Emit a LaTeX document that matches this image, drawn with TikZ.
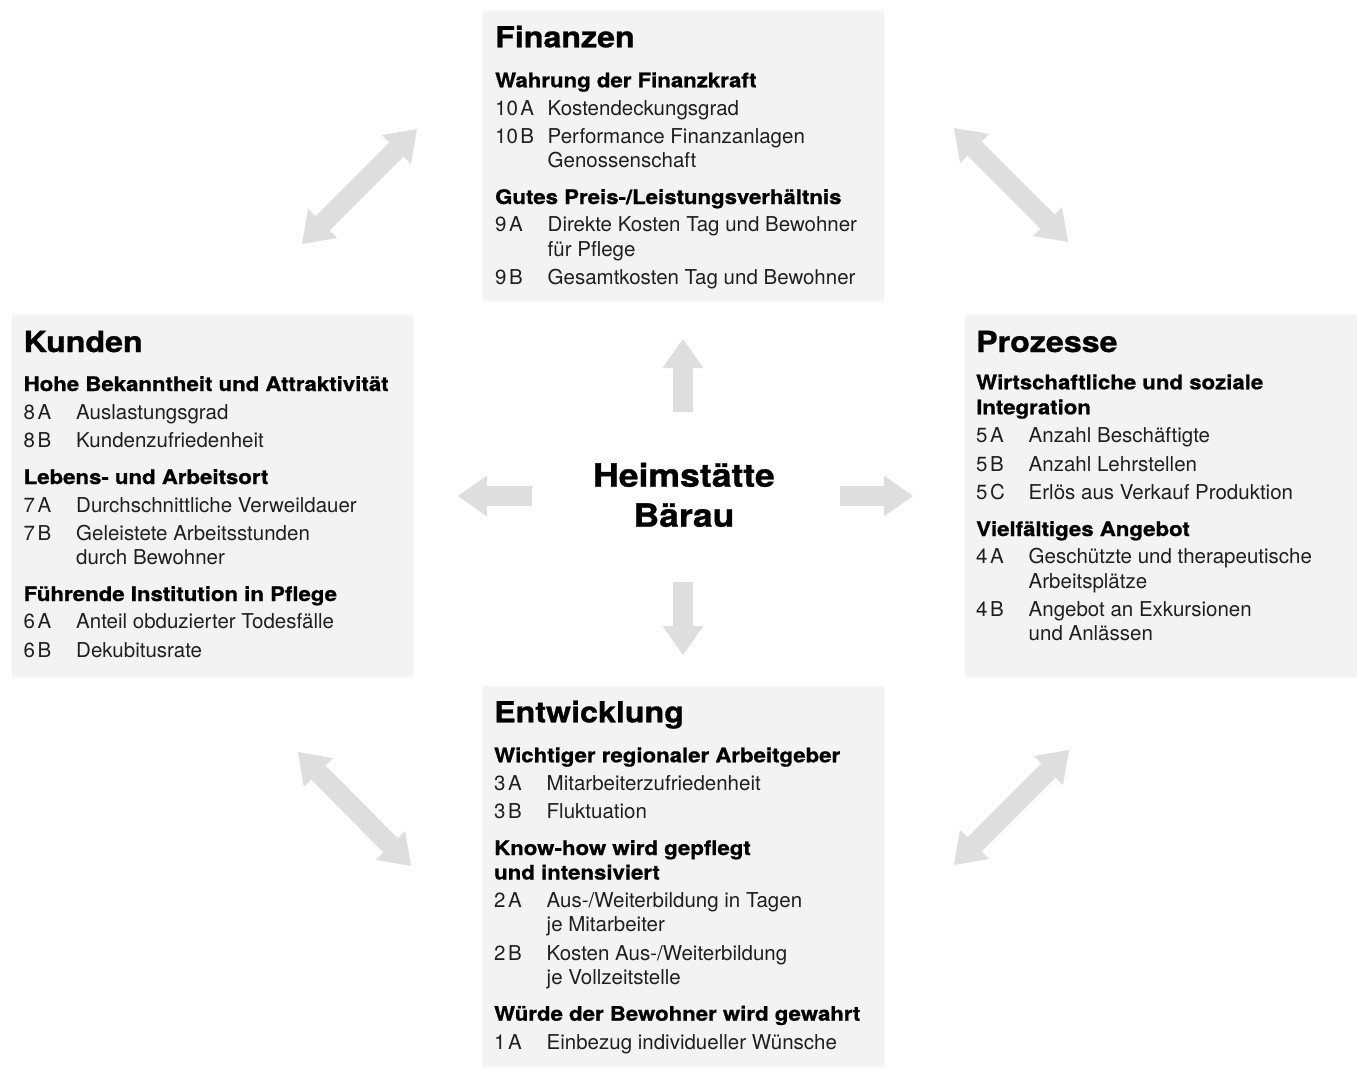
\documentclass[tikz,border=0pt]{standalone}
\usepackage{fontspec}
\setmainfont{TeX Gyre Heros}
\newfontfamily\hb{TeX Gyre Heros}[FakeStretch=1.11,FakeBold=0.9]
\usetikzlibrary{arrows.meta}
\definecolor{boxgray}{HTML}{F3F3F3}
\definecolor{arrgray}{HTML}{DEDEDE}
\newcounter{rw}
\newcommand\nsp{\kern2.5pt}
\newcommand\Ttl[4]{\node[ttl] (#1) at (#2,#3) {#4};}
\newcommand\Sub[3]{\stepcounter{rw}\node[subh] (s\arabic{rw}) at (#1,#2) {#3};}
\newcommand\Row[4]{\stepcounter{rw}\node[itm] (n\arabic{rw}) at (#1,#2) {#3};\node[itm] (i\arabic{rw}) at (#1+52.5,#2) {#4};}
\newcommand\Cont[3]{\stepcounter{rw}\node[itm] (c\arabic{rw}) at (#1+52.5,#2) {#3};}
\begin{document}
\begin{tikzpicture}[x=1pt,y=-1pt,
  box/.style={fill=boxgray,draw=none,inner sep=0pt,outer sep=0pt,anchor=north west},
  ttl/.style={anchor=base west,inner sep=0pt,font=\hb\bfseries\fontsize{29}{32}\selectfont},
  subh/.style={anchor=base west,inner sep=0pt,font=\hb\bfseries\fontsize{20}{24}\selectfont},
  itm/.style={anchor=base west,inner sep=0pt,text=black!88,font=\fontsize{20.5}{24}\selectfont},
  ctr/.style={anchor=base,inner sep=0pt,font=\hb\bfseries\fontsize{32}{36}\selectfont},
  fat/.style={draw=arrgray,line width=20pt,-{Triangle[length=29pt,width=41pt,line width=0pt]}},
  fatt/.style={draw=arrgray,line width=20pt,{Triangle[length=29pt,width=41pt,line width=0pt]}-{Triangle[length=29pt,width=41pt,line width=0pt]}}]
\useasboundingbox (0,0) rectangle (1357,1068);
\fill[white] (0,0) rectangle (1357,1068);
% boxes
\node[box,minimum width=401pt,minimum height=290pt] (finbox) at (483,11) {};
\node[box,minimum width=401pt,minimum height=362pt] (kunbox) at (12,315) {};
\node[box,minimum width=392pt,minimum height=362pt] (probox) at (965,315) {};
\node[box,minimum width=401pt,minimum height=381pt] (entbox) at (483,686) {};
% arrow end points
\coordinate (up0) at (683,412); \coordinate (up1) at (683,339);
\coordinate (dn0) at (683,582); \coordinate (dn1) at (683,655);
\coordinate (rt0) at (840,496); \coordinate (rt1) at (913,496);
\coordinate (lt0) at (532,496); \coordinate (lt1) at (458,496);
\coordinate (tla) at (302,244); \coordinate (tlb) at (417,129);
\coordinate (tra) at (954,128); \coordinate (trb) at (1068,242);
\coordinate (bla) at (298,752); \coordinate (blb) at (411,866);
\coordinate (bra) at (954,865); \coordinate (brb) at (1069,750);
\draw[fat] (up0) -- (up1);
\draw[fat] (dn0) -- (dn1);
\draw[fat] (rt0) -- (rt1);
\draw[fat] (lt0) -- (lt1);
\draw[fatt] (tla) -- (tlb);
\draw[fatt] (tra) -- (trb);
\draw[fatt] (bla) -- (blb);
\draw[fatt] (bra) -- (brb);
% centre
\node[ctr] (cen1) at (684,486.7) {Heimstätte};
\node[ctr] (cen2) at (684,526.7) {Bärau};
% Finanzen
\Ttl{fint}{495}{47.3}{Finanzen}
\Sub{495}{87.3}{Wahrung der Finanzkraft}
\Row{495}{115}{10\nsp A}{Kostendeckungsgrad}
\Row{495}{143.3}{10\nsp B}{Performance Finanzanlagen}
\Cont{495}{167.7}{Genossenschaft}
\Sub{495}{204}{Gutes Preis-/Leistungsverhältnis}
\Row{495}{231.7}{9\nsp A}{Direkte Kosten Tag und Bewohner}
\Cont{495}{256}{für Pflege}
\Row{495}{284}{9\nsp B}{Gesamtkosten Tag und Bewohner}
% Kunden
\Ttl{kunt}{23.5}{352}{Kunden}
\Sub{23.5}{391}{Hohe Bekanntheit und Attraktivität}
\Row{23.5}{419.3}{8\nsp A}{Auslastungsgrad}
\Row{23.5}{447.7}{8\nsp B}{Kundenzufriedenheit}
\Sub{23.5}{484}{Lebens- und Arbeitsort}
\Row{23.5}{512}{7\nsp A}{Durchschnittliche Verweildauer}
\Row{23.5}{540.3}{7\nsp B}{Geleistete Arbeitsstunden}
\Cont{23.5}{564.7}{durch Bewohner}
\Sub{23.5}{601}{Führende Institution in Pflege}
\Row{23.5}{628.7}{6\nsp A}{Anteil obduzierter Todesfälle}
\Row{23.5}{657}{6\nsp B}{Dekubitusrate}
% Prozesse
\Ttl{prot}{976}{352}{Prozesse}
\Sub{976}{389.3}{Wirtschaftliche und soziale}
\Sub{976}{414.3}{Integration}
\Row{976}{442.7}{5\nsp A}{Anzahl Beschäftigte}
\Row{976}{471.2}{5\nsp B}{Anzahl Lehrstellen}
\Row{976}{499.7}{5\nsp C}{Erlös aus Verkauf Produktion}
\Sub{976}{536}{Vielfältiges Angebot}
\Row{976}{563.7}{4\nsp A}{Geschützte und therapeutische}
\Cont{976}{588.1}{Arbeitsplätze}
\Row{976}{616.4}{4\nsp B}{Angebot an Exkursionen}
\Cont{976}{640.8}{und Anlässen}
% Entwicklung
\Ttl{entt}{494}{722.3}{Entwicklung}
\Sub{494}{762.3}{Wichtiger regionaler Arbeitgeber}
\Row{494}{790.3}{3\nsp A}{Mitarbeiterzufriedenheit}
\Row{494}{818.6}{3\nsp B}{Fluktuation}
\Sub{494}{855}{Know-how wird gepflegt}
\Sub{494}{879.5}{und intensiviert}
\Row{494}{907.3}{2\nsp A}{Aus-/Weiterbildung in Tagen}
\Cont{494}{931.7}{je Mitarbeiter}
\Row{494}{960}{2\nsp B}{Kosten Aus-/Weiterbildung}
\Cont{494}{984.2}{je Vollzeitstelle}
\Sub{494}{1020.7}{Würde der Bewohner wird gewahrt}
\Row{494}{1049}{1\nsp A}{Einbezug individueller Wünsche}
\end{tikzpicture}
\end{document}
